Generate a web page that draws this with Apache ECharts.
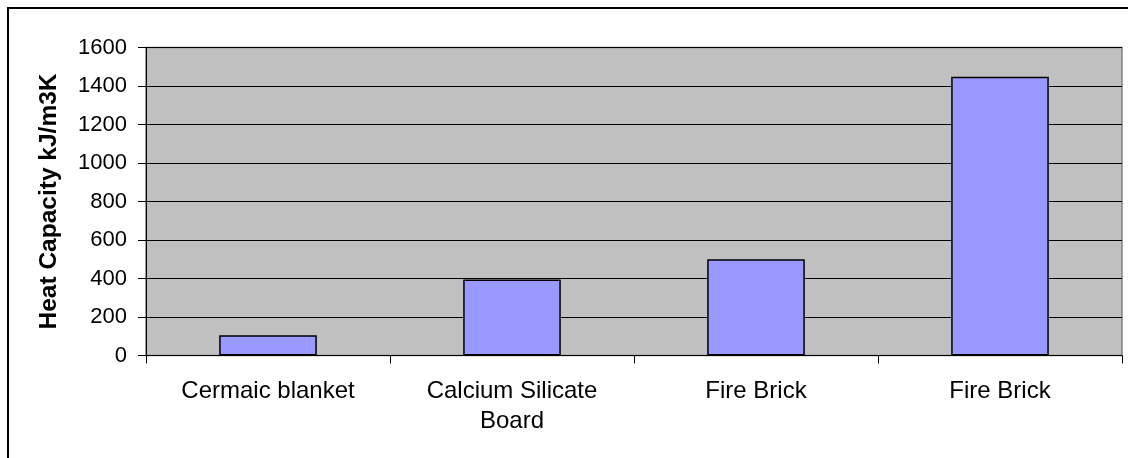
<!DOCTYPE html>
<html>
<head>
<meta charset="utf-8">
<script src="https://cdn.jsdelivr.net/npm/echarts@6/dist/echarts.min.js"></script>
<style>
html,body{margin:0;padding:0;background:#fff;}
#c{width:1128px;height:458px;}
</style>
</head>
<body>
<div id="c"></div>
<script>
const categories = ['Cermaic blanket', 'Calcium Silicate\nBoard', 'Fire Brick', 'Fire Brick'];
const heatCapacity = [105, 395, 500, 1448];
const yTicks = { min: 0, max: 1600, interval: 200 };
const yTitle = 'Heat Capacity kJ/m3K';

const FONT = '"Liberation Sans", Arial, sans-serif';
const chart = echarts.init(document.getElementById('c'), null, { renderer: 'canvas' });
chart.setOption({
  animation: false,
  backgroundColor: '#ffffff',
  graphic: [{
    type: 'rect',
    shape: { x: 8, y: 8, width: 1300, height: 700 },
    style: { fill: 'none', stroke: '#000', lineWidth: 2 },
    silent: true
  }],
  grid: {
    left: 146, right: 6, top: 47.5, bottom: 102.5,
    show: true, backgroundColor: '#C0C0C0', borderColor: '#808080', borderWidth: 1.5
  },
  xAxis: {
    type: 'category',
    data: categories,
    axisLine: { show: true, lineStyle: { color: '#000', width: 1 } },
    axisTick: { show: true, length: 8, alignWithLabel: false, lineStyle: { color: '#000' } },
    axisLabel: { color: '#000', fontFamily: FONT, fontSize: 24, margin: 21, lineHeight: 30, interval: 0 },
    splitLine: { show: false }
  },
  yAxis: {
    type: 'value',
    min: yTicks.min, max: yTicks.max, interval: yTicks.interval,
    name: yTitle,
    nameLocation: 'middle',
    nameGap: 84,
    nameTextStyle: { color: '#000', fontFamily: FONT, fontSize: 24.5, fontWeight: 'bold' },
    axisLine: { show: true, lineStyle: { color: '#000', width: 1 } },
    axisTick: { show: true, length: 8, lineStyle: { color: '#000' } },
    axisLabel: { color: '#000', fontFamily: FONT, fontSize: 22, margin: 19, formatter: v => String(v) },
    splitLine: { show: true, lineStyle: { color: '#000', width: 1 } }
  },
  series: [{
    type: 'bar',
    data: heatCapacity,
    barWidth: '40%',
    itemStyle: { color: '#9999FF', borderColor: '#000', borderWidth: 1.5 }
  }]
});
</script>
</body>
</html>
